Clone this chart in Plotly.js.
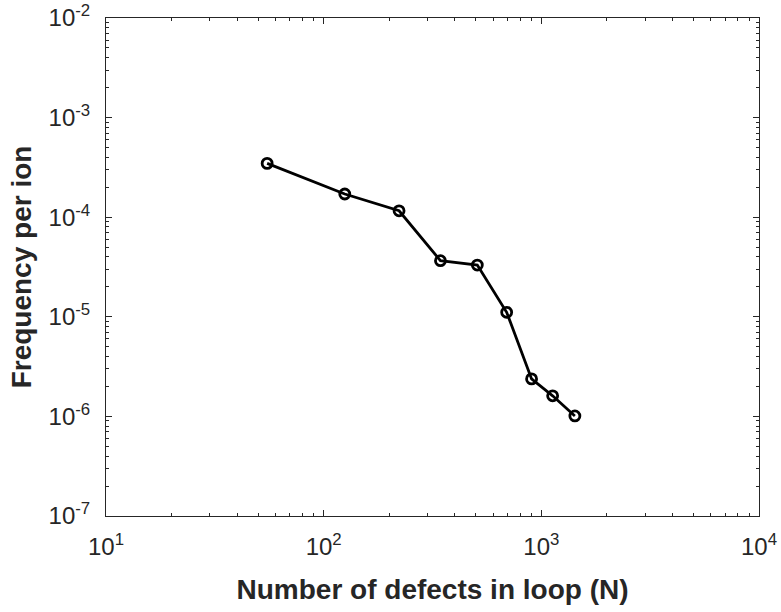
<!DOCTYPE html>
<html>
<head>
<meta charset="utf-8">
<script src="https://cdn.plot.ly/plotly-3.0.1.min.js"></script>
<style>html,body{margin:0;padding:0;background:#fff;}#chart{width:781px;height:612px;}</style>
</head>
<body>
<div id="chart"></div>
<script>
const loopSizeN = [55, 125, 222, 344, 508, 693, 902, 1127, 1426];
const frequencyPerIon = [3.47e-4, 1.71e-4, 1.16e-4, 3.66e-5, 3.31e-5, 1.11e-5, 2.38e-6, 1.61e-6, 1.01e-6];
const xTickVals = [1e1, 1e2, 1e3, 1e4];
const xTickText = ['10<sup>1</sup>', '10<sup>2</sup>', '10<sup>3</sup>', '10<sup>4</sup>'];
const yTickVals = [1e-7, 1e-6, 1e-5, 1e-4, 1e-3, 1e-2];
const yTickText = ['10<sup>-7</sup>', '10<sup>-6</sup>', '10<sup>-5</sup>', '10<sup>-4</sup>', '10<sup>-3</sup>', '10<sup>-2</sup>'];

function minorVals(lo, hi) {
  const v = [];
  for (let e = lo; e < hi; e++) for (let m = 2; m <= 9; m++) v.push(m * Math.pow(10, e));
  return v;
}

const FONT = 'Arial';
const INK = '#262626';

const data = [{
  x: loopSizeN,
  y: frequencyPerIon,
  type: 'scatter',
  mode: 'lines+markers',
  line: {color: '#000', width: 2.8},
  marker: {symbol: 'circle-open', size: 10, color: '#000', line: {width: 2.8, color: '#000'}},
  showlegend: false
}];

const layout = {
  width: 781, height: 612,
  margin: {l: 106, r: 22, t: 18, b: 96},
  paper_bgcolor: '#fff', plot_bgcolor: '#fff',
  font: {family: FONT, size: 20, color: INK},
  xaxis: {
    type: 'log', range: [1, 4], automargin: false,
    showgrid: false, zeroline: false, showline: true, linecolor: INK, linewidth: 1,
    mirror: 'ticks', ticks: 'inside', ticklen: 6, tickcolor: INK,
    tickmode: 'array', tickvals: xTickVals, ticktext: xTickText,
    ticklabelstandoff: 9,
    minor: {tickmode: 'array', tickvals: minorVals(1, 4), ticks: 'inside', ticklen: 3, tickcolor: INK, showgrid: false},
    tickfont: {family: FONT, size: 24, color: INK},
    title: {text: '<b>Number of defects in loop (N)</b>', font: {family: FONT, size: 28, color: INK}, standoff: 20}
  },
  yaxis: {
    type: 'log', range: [-7, -2], automargin: false,
    showgrid: false, zeroline: false, showline: true, linecolor: INK, linewidth: 1,
    mirror: 'ticks', ticks: 'inside', ticklen: 6, tickcolor: INK,
    tickmode: 'array', tickvals: yTickVals, ticktext: yTickText,
    ticklabelstandoff: 10,
    minor: {tickmode: 'array', tickvals: minorVals(-7, -2), ticks: 'inside', ticklen: 3, tickcolor: INK, showgrid: false},
    tickfont: {family: FONT, size: 24, color: INK},
    title: {text: '<b>Frequency per ion</b>', font: {family: FONT, size: 28, color: INK}, standoff: 8}
  }
};

Plotly.newPlot('chart', data, layout, {displayModeBar: false, staticPlot: true});
</script>
</body>
</html>
